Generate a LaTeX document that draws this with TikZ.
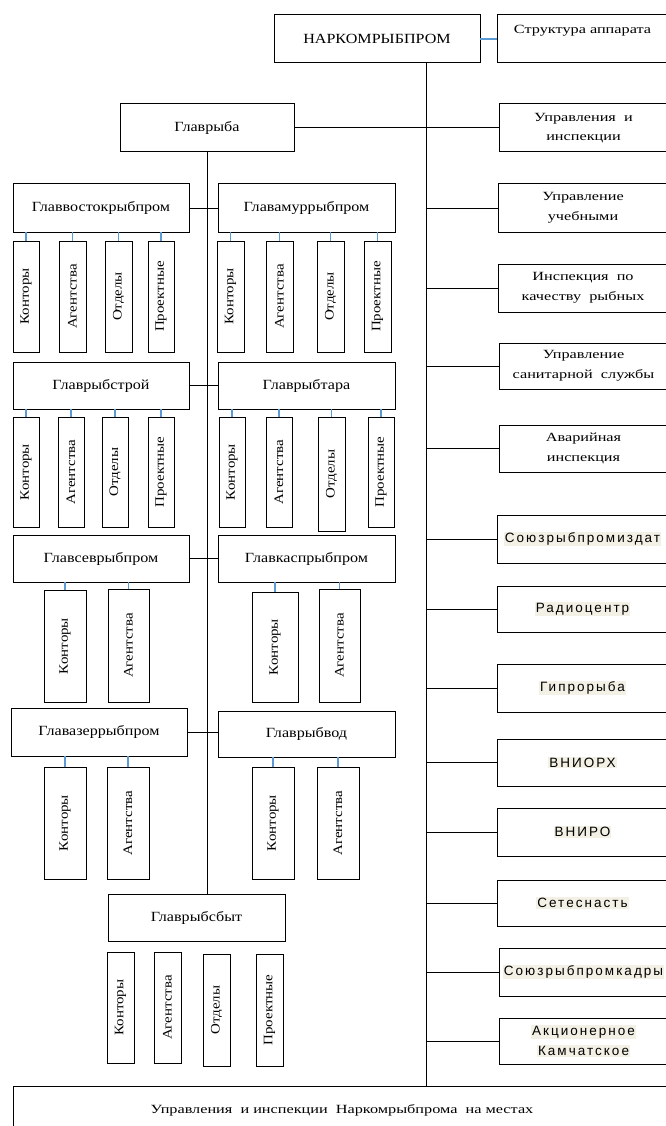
\documentclass[tikz,border=0pt]{standalone}
\usepackage{fontspec}
\setmainfont{Liberation Serif}
\newfontfamily\serA{Liberation Serif}[FakeStretch=1.15]
\newfontfamily\serB{Liberation Serif}[FakeStretch=1.3]
\newfontfamily\sanA{Liberation Sans}[LetterSpace=15]
\definecolor{hl}{RGB}{243,240,229}
\definecolor{conblue}{RGB}{91,155,213}
\newcommand{\hlt}[1]{{\setlength{\fboxsep}{1pt}\colorbox{hl}{#1}}}
\newcommand{\mybox}[7][]{\node[box,#1,minimum width={(#4-#3)*1pt},minimum height={(#6-#5)*1pt}] (#2) at ({(#3+#4)/2},{(#5+#6)/2}) {#7};}
\newcommand{\mysub}[6]{\node[box,subtext,rotate=90,minimum width={(#5-#4)*1pt},minimum height={(#3-#2)*1pt}] (#1) at ({(#2+#3)/2},{(#4+#5)/2}) {#6};}
\tikzset{
  box/.style={draw=black, line width=1pt, inner sep=0pt, outer sep=0pt, align=center},
  mainf/.style={font=\serA\fontsize{14}{16}\selectfont},
  rtext/.style={font=\serB\fontsize{12.5}{19.5}\selectfont},
  stext/.style={font=\sanA\fontsize{13.5}{20}\selectfont},
  subtext/.style={font=\serA\fontsize{13}{15}\selectfont},
  conn/.style={draw=black, line width=1pt},
  bconn/.style={draw=conblue, line width=1.2pt},
}
\begin{document}
\begin{tikzpicture}[x=1pt,y=-1pt]
\useasboundingbox (0,0) rectangle (665,1126);
\fill[white] (0,0) rectangle (665,1126);

% top
\mybox[mainf]{narkom}{274}{480}{15}{63}{НАРКОМРЫБПРОМ}
\mybox[rtext]{struct}{497}{668}{15}{63}{Структура аппарата\\\mbox{}}
\mybox[mainf]{glavryba}{120}{294}{104}{152}{Главрыба}

% right column
\mybox[rtext]{r1}{499}{668}{104}{152}{Управления~~и\\инспекции}
\mybox[rtext]{r2}{498}{668}{184}{232}{Управление\\учебными}
\mybox[rtext]{r3}{498}{668}{264}{312}{Инспекция~~по\\качеству~~рыбных}
\mybox[rtext]{r4}{499}{668}{343}{389}{Управление\\санитарной~~службы}
\mybox[rtext]{r5}{499}{668}{425}{472}{Аварийная\\инспекция}
\mybox[stext]{r6}{497}{668}{515}{563}{\hlt{Союзрыбпромиздат}}
\mybox[stext]{r7}{497}{668}{586}{632}{\hlt{Радиоцентр}}
\mybox[stext]{r8}{497}{668}{664}{712}{\hlt{Гипрорыба}}
\mybox[stext]{r9}{497}{668}{739}{786}{\hlt{ВНИОРХ}}
\mybox[stext]{r10}{497}{668}{808}{856}{\hlt{ВНИРО}}
\mybox[stext]{r11}{497}{668}{880}{926}{\hlt{Сетеснасть}}
\mybox[stext]{r12}{499}{668}{948}{996}{\hlt{Союзрыбпромкадры}}
\mybox[stext]{r13}{499}{668}{1018}{1064}{\hlt{Акционерное}\\\hlt{Камчатское}}

% bottom
\mybox[rtext]{bottom}{13}{671}{1086}{1134}{Управления~~и инспекции~~Наркомрыбпрома~~на местах}

% left column main boxes
\mybox[mainf]{a1}{13}{189}{184}{232}{Главвостокрыбпром}
\mybox[mainf]{b1}{218}{395}{184}{232}{Главамуррыбпром}
\mybox[mainf]{a2}{13}{189}{362}{409}{Главрыбстрой}
\mybox[mainf]{b2}{218}{395}{362}{409}{Главрыбтара}
\mybox[mainf]{a3}{13}{189}{535}{582}{Главсеврыбпром}
\mybox[mainf]{b3}{218}{395}{535}{582}{Главкаспрыбпром}
\mybox[mainf]{a4}{11}{187}{708}{756}{Главазеррыбпром}
\mybox[mainf]{b4}{218}{395}{711}{757}{Главрыбвод}
\mybox[mainf]{sb}{108}{285}{894}{941}{Главрыбсбыт}

% sub boxes row 1
\mysub{a1s1}{13}{39}{241}{352}{Конторы}
\mysub{a1s2}{59}{86}{241}{352}{Агентства}
\mysub{a1s3}{105}{132}{241}{352}{Отделы}
\mysub{a1s4}{148}{174}{241}{352}{Проектные}
\mysub{b1s1}{217}{244}{241}{352}{Конторы}
\mysub{b1s2}{266}{293}{241}{352}{Агентства}
\mysub{b1s3}{317}{344}{241}{352}{Отделы}
\mysub{b1s4}{364}{391}{241}{352}{Проектные}
% row 2
\mysub{a2s1}{13}{39}{417}{527}{Конторы}
\mysub{a2s2}{58}{84}{417}{527}{Агентства}
\mysub{a2s3}{102}{128}{417}{527}{Отделы}
\mysub{a2s4}{148}{174}{417}{527}{Проектные}
\mysub{b2s1}{219}{245}{417}{527}{Конторы}
\mysub{b2s2}{266}{292}{417}{527}{Агентства}
\mysub{b2s3}{318}{345}{417}{531}{Отделы}
\mysub{b2s4}{368}{394}{417}{527}{Проектные}
% row 3
\mysub{a3s1}{44}{86}{590}{702}{Конторы}
\mysub{a3s2}{108}{149}{589}{702}{Агентства}
\mysub{b3s1}{252}{298}{592}{702}{Конторы}
\mysub{b3s2}{319}{360}{589}{702}{Агентства}
% row 4
\mysub{a4s1}{44}{86}{767}{879}{Конторы}
\mysub{a4s2}{107}{149}{767}{879}{Агентства}
\mysub{b4s1}{252}{294}{767}{879}{Конторы}
\mysub{b4s2}{317}{359}{767}{879}{Агентства}
% row 5
\mysub{sbs1}{107}{134}{952}{1063}{Конторы}
\mysub{sbs2}{154}{181}{952}{1063}{Агентства}
\mysub{sbs3}{203}{230}{954}{1066}{Отделы}
\mysub{sbs4}{256}{283}{954}{1066}{Проектные}

% main vertical
\coordinate (vtop) at (426,63);
\coordinate (vbot) at (426,1086);
\draw[conn] (vtop) -- (vbot);
\draw[bconn] (narkom.east) -- (struct.west);
\draw[conn] (glavryba.east) -- (r1.west);
\foreach \r in {r2,r3,r4,r5,r6,r7,r8,r9,r10,r11,r12,r13}
  \draw[conn] (\r.west) -- (\r.west -| vtop);

% left vertical
\draw[conn] (glavryba.south) -- (glavryba.south |- sb.north);
\foreach \l/\rr in {a1/b1,a2/b2,a3/b3,a4/b4}
  \draw[conn] (\l.east) -- (\l.east -| \rr.west);

% blue sub connectors
\foreach \p in {a1,b1,a2,b2}
  \foreach \i in {1,2,3,4}
    \draw[bconn] (\p s\i.east) -- (\p s\i.east |- \p.south);
\foreach \p in {a3,b3,a4,b4}
  \foreach \i in {1,2}
    \draw[bconn] (\p s\i.east) -- (\p s\i.east |- \p.south);
\end{tikzpicture}
\end{document}
